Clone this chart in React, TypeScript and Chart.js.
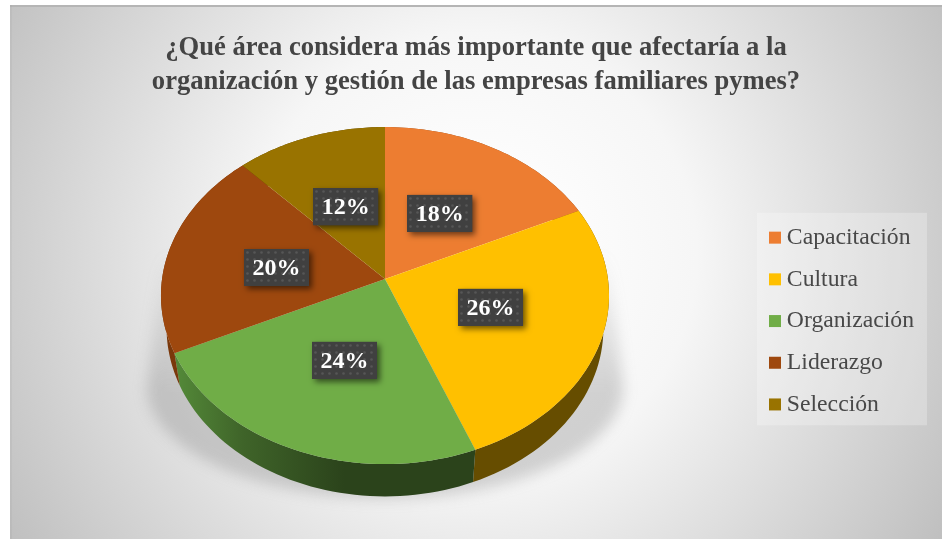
import { useEffect, useRef } from "react";
import { Chart, registerables } from "chart.js";

Chart.register(...registerables);

const titleLines = [
  "¿Qué área considera más importante que afectaría a la",
  "organización y gestión de las empresas familiares pymes?",
];
const categories = ["Capacitación", "Cultura", "Organización", "Liderazgo", "Selección"];
const shares = [18, 26, 24, 20, 12];
const sliceColors = ["#ED7D31", "#FFC000", "#70AD47", "#9E480E", "#997300"];
const wallColors = ["#8f4b1d", "#664d00", "#43682b", "#7a380b", "#5c4500"];

const CANVAS_W = 932;
const CANVAS_H = 534;

// Perspective of the tilted disc, all relative to the library's outer radius.
const NEAR_BULGE = -0.098;
const SQUASH = 0.7485;
const APEX_SHIFT_X = -0.0336;
const APEX_SHIFT_Y = -0.166;
const DEPTH = 0.145;
const BOTTOM_SCALE = 0.975;
const BADGE_RADIUS = 0.5;
// Hand placement of the value badges, per slice.
const BADGE_NUDGE_X = [-2.5, 0, 2.5, 0, 0];
const BADGE_NUDGE_Y = [2, -3, 0, 4, 2];

type Pt = { x: number; y: number };

function project(arc: any, angle: number, rho: number, lower = false): Pt {
  // Chart.js angles run from -PI/2 at twelve o'clock.
  const R = arc.outerRadius;
  const ux = Math.cos(angle) * rho;
  const uy = Math.sin(angle) * rho;
  const w = 1 + NEAR_BULGE * uy;
  const s = lower ? BOTTOM_SCALE : 1;
  return {
    x: arc.x + APEX_SHIFT_X * R + (R * ux * s) / w,
    y: arc.y + APEX_SHIFT_Y * R + (SQUASH * R * uy) / w + (lower ? DEPTH * R : 0),
  };
}

function dotPattern(ctx: CanvasRenderingContext2D) {
  const cell = document.createElement("canvas");
  cell.width = 7;
  cell.height = 7;
  const c = cell.getContext("2d")!;
  c.fillStyle = "#404040";
  c.fillRect(0, 0, 7, 7);
  c.fillStyle = "#565656";
  c.beginPath();
  c.arc(3.5, 3.5, 1.3, 0, Math.PI * 2);
  c.fill();
  return ctx.createPattern(cell, "repeat")!;
}

const panelPlugin = {
  id: "panel",
  afterLayout(chart: any) {
    // Drop the legend a little below the centre of the plot.
    if (chart.legend) {
      chart.legend.top += 5;
      chart.legend.bottom += 5;
    }
  },
  beforeDraw(chart: any) {
    const { ctx, width, height } = chart;
    const g = ctx.createRadialGradient(465, 250, 40, 465, 250, 560);
    g.addColorStop(0, "#ffffff");
    g.addColorStop(0.35, "#f6f6f6");
    g.addColorStop(1, "#bdbdbd");
    ctx.save();
    ctx.fillStyle = g;
    ctx.fillRect(0, 0, width, height);
    ctx.fillStyle = "#b5b5b5";
    ctx.fillRect(0, 0, width, 2);
    ctx.fillStyle = "rgba(150,150,150,0.12)";
    ctx.fillRect(0, 0, 2, height);
    ctx.restore();

    const boxes = chart.legend?.legendHitBoxes;
    if (boxes?.length) {
      const top = boxes[0].top - 13;
      const last = boxes[boxes.length - 1];
      const bottom = last.top + last.height + 9;
      ctx.save();
      ctx.fillStyle = "rgba(255,255,255,0.25)";
      ctx.fillRect(chart.legend.left, top, 170, bottom - top);
      ctx.restore();
    }
  },
};

const tiltedPiePlugin = {
  id: "tiltedPie",
  beforeDatasetDraw(chart: any) {
    const { ctx } = chart;
    const arcs = chart.getDatasetMeta(0).data;
    const first = arcs[0];
    const R = first.outerRadius;
    const steps = 48;

    // Ground shadow: a flared cone under the disc, fading out upwards.
    const apex = project(first, 0, 0);
    const shadowRx = R * 1.068;
    const shadowRy = R * 0.5;
    const shadowY = apex.y + R * 0.484;
    const fade = ctx.createLinearGradient(0, apex.y - R * 0.12, 0, shadowY);
    fade.addColorStop(0, "rgba(120,120,120,0)");
    fade.addColorStop(1, "rgba(120,120,120,0.3)");
    ctx.save();
    ctx.filter = "blur(7px)";
    ctx.fillStyle = fade;
    ctx.beginPath();
    ctx.moveTo(apex.x - R, apex.y - R * 0.12);
    ctx.lineTo(apex.x - shadowRx, shadowY);
    ctx.ellipse(apex.x, shadowY, shadowRx, shadowRy, 0, Math.PI, 0, true);
    ctx.lineTo(apex.x + R, apex.y - R * 0.12);
    ctx.closePath();
    ctx.fill();
    ctx.restore();

    // Side wall: one band per slice, back to front.
    arcs.forEach((arc: any, idx: number) => {
      const start = arc.startAngle;
      const end = arc.endAngle;
      const topPts: Pt[] = [];
      const lowPts: Pt[] = [];
      for (let i = 0; i <= steps; i++) {
        const a = start + ((end - start) * i) / steps;
        topPts.push(project(arc, a, 1));
        lowPts.push(project(arc, a, 1, true));
      }
      let fill: any = wallColors[idx];
      if (idx === 2) {
        const left = project(arc, end, 1).x;
        const g = ctx.createLinearGradient(left, 0, left + 170, 0);
        g.addColorStop(0, "#548a39");
        g.addColorStop(0.4, "#3f6429");
        g.addColorStop(1, "#2b431b");
        fill = g;
      }
      ctx.fillStyle = fill;
      ctx.beginPath();
      topPts.forEach((p, i) => (i ? ctx.lineTo(p.x, p.y) : ctx.moveTo(p.x, p.y)));
      lowPts.reverse().forEach((p) => ctx.lineTo(p.x, p.y));
      ctx.closePath();
      ctx.fill();
    });

    // Top face.
    arcs.forEach((arc: any, idx: number) => {
      ctx.fillStyle = sliceColors[idx];
      ctx.beginPath();
      const c = project(arc, 0, 0);
      ctx.moveTo(c.x, c.y);
      for (let i = 0; i <= steps; i++) {
        const a = arc.startAngle + ((arc.endAngle - arc.startAngle) * i) / steps;
        const p = project(arc, a, 1);
        ctx.lineTo(p.x, p.y);
      }
      ctx.closePath();
      ctx.fill();
    });

    // Value badges.
    const pattern = dotPattern(ctx);
    arcs.forEach((arc: any, idx: number) => {
      const mid = (arc.startAngle + arc.endAngle) / 2;
      const base = project(arc, mid, BADGE_RADIUS);
      const p = { x: base.x + BADGE_NUDGE_X[idx], y: base.y + BADGE_NUDGE_Y[idx] };
      const w = 65;
      const h = 37;
      ctx.save();
      ctx.shadowColor = "rgba(0,0,0,0.55)";
      ctx.shadowBlur = 6;
      ctx.shadowOffsetX = 3;
      ctx.shadowOffsetY = 3;
      ctx.fillStyle = "#404040";
      ctx.fillRect(p.x - w / 2, p.y - h / 2, w, h);
      ctx.restore();
      ctx.save();
      ctx.translate(Math.round(p.x - w / 2), Math.round(p.y - h / 2));
      ctx.fillStyle = pattern;
      ctx.fillRect(0, 0, w, h);
      ctx.restore();
      ctx.save();
      ctx.fillStyle = "#ffffff";
      ctx.font = 'bold 24px "Liberation Serif"';
      ctx.textAlign = "center";
      ctx.textBaseline = "middle";
      ctx.fillText(`${shares[idx]}%`, p.x, p.y + 1);
      ctx.restore();
    });
    return false;
  },
};

export default function App() {
  const ref = useRef<HTMLCanvasElement>(null);
  useEffect(() => {
    const chart = new Chart(ref.current!, {
      type: "pie",
      data: {
        labels: categories,
        datasets: [{ data: shares, backgroundColor: sliceColors, borderWidth: 0 }],
      },
      plugins: [panelPlugin, tiltedPiePlugin],
      options: {
        responsive: false,
        animation: false,
        layout: { padding: { left: 18, right: 18, top: 0, bottom: 0 } },
        plugins: {
          tooltip: { enabled: false },
          title: {
            display: true,
            text: titleLines,
            color: "#444444",
            font: { family: '"Liberation Serif"', size: 26.6, weight: "bold", lineHeight: 1.28 },
            padding: { top: 26, bottom: -6 },
          },
          legend: {
            position: "right",
            fullSize: false,
            labels: {
              color: "#484848",
              font: { family: '"Liberation Serif"', size: 23.7 },
              boxWidth: 0.01,
              boxHeight: 12,
              padding: 18,
              usePointStyle: true,
              pointStyle: "rect",
            },
          },
        },
      },
    } as any);
    return () => chart.destroy();
  }, []);
  return (
    <div style={{ position: "fixed", left: 10, top: 5, width: CANVAS_W, height: CANVAS_H }}>
      <canvas ref={ref} width={CANVAS_W} height={CANVAS_H} style={{ display: "block" }} />
    </div>
  );
}
